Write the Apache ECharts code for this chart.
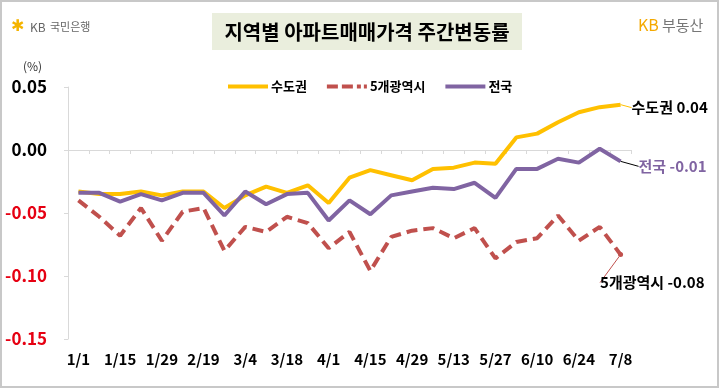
<!DOCTYPE html>
<html><head><meta charset="utf-8">
<script src="https://cdn.jsdelivr.net/npm/echarts@6/dist/echarts.min.js"></script>
<style>html,body{margin:0;padding:0;background:#fff}#c{width:720px;height:389px}</style>
</head><body><div id="c"></div>
<script>
// ---- data ----
const dates = ['1/1','1/8','1/15','1/22','1/29','2/5','2/19','2/26','3/4','3/11','3/18','3/25','4/1','4/8','4/15','4/22','4/29','5/6','5/13','5/20','5/27','6/3','6/10','6/17','6/24','7/1','7/8'];
const capital = [-0.033,-0.035,-0.035,-0.033,-0.036,-0.033,-0.033,-0.046,-0.036,-0.029,-0.034,-0.028,-0.042,-0.022,-0.016,-0.020,-0.024,-0.015,-0.014,-0.010,-0.011,0.010,0.013,0.022,0.030,0.034,0.036];
const fiveCities = [-0.040,-0.053,-0.068,-0.046,-0.072,-0.049,-0.046,-0.080,-0.061,-0.065,-0.053,-0.058,-0.078,-0.065,-0.096,-0.069,-0.064,-0.062,-0.070,-0.062,-0.086,-0.073,-0.070,-0.052,-0.072,-0.061,-0.083];
const national = [-0.034,-0.034,-0.041,-0.035,-0.040,-0.034,-0.034,-0.052,-0.033,-0.043,-0.035,-0.034,-0.056,-0.040,-0.051,-0.036,-0.033,-0.030,-0.031,-0.026,-0.038,-0.015,-0.015,-0.007,-0.010,0.001,-0.009];
const seriesNames = ['수도권','5개광역시','전국'];
const yMin = -0.15, yMax = 0.05, yStep = 0.05;
const titleText = '지역별 아파트매매가격 주간변동률';

const FONT = "'Noto Sans CJK KR', 'Noto Sans', sans-serif";
const chart = echarts.init(document.getElementById('c'));

const SOLID_ICON = 'path://M0,0H40V4H0Z';
const DASH_ICON = 'path://M0,0H11V4H0Z M15,0H26V4H15Z M30,0H34V4H30Z M37,0H40V4H37Z';

function mkSeries(name, data, color, lineType, endCfg) {
  const last = data.length - 1;
  return {
    name, type: 'line', xAxisIndex: 0,
    data: data.map((v, i) => i === last ? { value: v, label: { show: true } } : v),
    showSymbol: true, showAllSymbol: true, symbol: 'circle',
    symbolSize: (v, p) => p.dataIndex === last ? endCfg.dot : 0,
    itemStyle: { color },
    lineStyle: { color, width: 4, type: lineType },
    label: {
      show: false, position: 'right', distance: 5,
      formatter: p => name + ' ' + p.value.toFixed(2),
      fontFamily: FONT, fontWeight: 'bold', fontSize: 15, color: endCfg.textColor
    },
    labelLine: { show: true, lineStyle: { color: endCfg.lineColor, width: 1 } },
    labelLayout: p => p.dataIndex === last ? { dx: endCfg.dx, dy: endCfg.dy } : {},
    emphasis: { disabled: true },
    animation: false
  };
}

chart.setOption({
  animation: false,
  textStyle: { fontFamily: FONT },
  grid: { left: 68, right: 89, top: 87, bottom: 50 },
  legend: {
    left: 223, top: 75, itemWidth: 40, itemHeight: 4, itemGap: 20,
    textStyle: { fontFamily: FONT, fontWeight: 'bold', fontSize: 13, color: '#000', padding: [0, 0, 0, -2] },
    data: [
      { name: seriesNames[0], icon: SOLID_ICON },
      { name: seriesNames[1], icon: DASH_ICON },
      { name: seriesNames[2], icon: SOLID_ICON }
    ]
  },
  xAxis: [
    { type: 'category', data: dates, position: 'bottom',
      axisLine: { onZero: true, lineStyle: { color: '#D9D9D9', width: 1 } },
      axisTick: { show: true, interval: 0, length: 4, lineStyle: { color: '#D9D9D9' } },
      axisLabel: { show: false }, splitLine: { show: false } },
    { type: 'category', data: dates, position: 'bottom',
      axisLine: { show: false, onZero: false }, axisTick: { show: false },
      axisLabel: { interval: 1, margin: 13, fontFamily: FONT, fontWeight: 'bold', fontSize: 15, color: '#000' },
      splitLine: { show: false } }
  ],
  yAxis: {
    type: 'value', min: yMin, max: yMax, interval: yStep,
    axisLine: { show: true, lineStyle: { color: '#D9D9D9' } },
    axisTick: { show: true, length: 4, lineStyle: { color: '#D9D9D9' } },
    splitLine: { show: false },
    axisLabel: {
      margin: 21,
      formatter: v => { const s = v.toFixed(2); return v < -1e-9 ? '{n|' + s + '}' : '{p|' + s + '}'; },
      rich: {
        p: { fontFamily: FONT, fontWeight: 'bold', fontSize: 17, color: '#000' },
        n: { fontFamily: FONT, fontWeight: 'bold', fontSize: 17, color: '#E60012' }
      }
    }
  },
  series: [
    mkSeries(seriesNames[0], capital, '#FFC000', 'solid', { dot: 0, dx: 6, dy: 3, textColor: '#000', lineColor: '#FFC000' }),
    mkSeries(seriesNames[1], fiveCities, '#C0504D', [11, 6], { dot: 5, dx: -28, dy: 28, textColor: '#000', lineColor: '#C0504D' }),
    mkSeries(seriesNames[2], national, '#8064A2', 'solid', { dot: 0, dx: 13, dy: 5, textColor: '#8064A2', lineColor: '#000' })
  ],
  graphic: [
    { type: 'rect', shape: { x: 1, y: 1, width: 717, height: 386 }, style: { fill: 'none', stroke: '#C8C8C8', lineWidth: 2 }, silent: true },
    { type: 'rect', shape: { x: 212, y: 13, width: 310, height: 37 }, style: { fill: '#EAEEDD' }, silent: true },
    { type: 'text', x: 367, y: 32, style: { text: titleText, fontFamily: FONT, fontWeight: 'bold', fontSize: 20, fill: '#000', align: 'center', verticalAlign: 'middle' } },
    { type: 'text', x: 23, y: 66, style: { text: '(%)', fontFamily: FONT, fontSize: 12, fill: '#333', verticalAlign: 'middle' } },
    { type: 'text', x: 11, y: 27, style: { text: '✱', fontFamily: "'DejaVu Sans'", fontSize: 16, fill: '#F5B400', verticalAlign: 'middle' } },
    { type: 'text', x: 30, y: 27, style: { text: 'KB', fontFamily: FONT, fontSize: 12, fill: '#666', verticalAlign: 'middle' } },
    { type: 'text', x: 50, y: 27, style: { text: '국민은행', fontFamily: FONT, fontSize: 11, fill: '#666', verticalAlign: 'middle' } },
    { type: 'text', x: 638, y: 25, style: { text: 'KB', fontFamily: FONT, fontSize: 16, fill: '#F4A900', verticalAlign: 'middle' } },
    { type: 'text', x: 662, y: 25, style: { text: '부동산', fontFamily: FONT, fontSize: 15, fill: '#777', verticalAlign: 'middle' } }
  ]
});
</script></body></html>
